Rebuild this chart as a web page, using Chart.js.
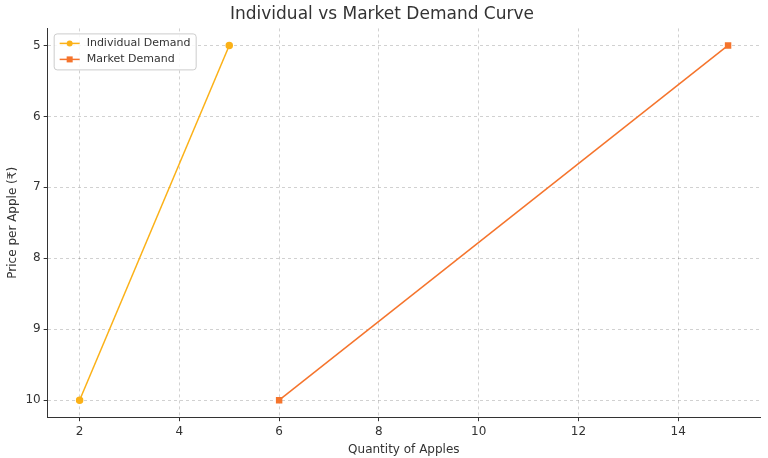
<!DOCTYPE html>
<html>
<head>
<meta charset="utf-8">
<script src="https://cdn.jsdelivr.net/npm/chart.js@4"></script>
<style>
  html, body { margin: 0; padding: 0; background: #fff; }
  #wrap { width: 768px; height: 458px; }
</style>
</head>
<body>
<div id="wrap"><canvas id="chart"></canvas></div>
<script>
// data
const individualQty = [2, 5];
const individualPrice = [10, 5];
const marketQty = [6, 15];
const marketPrice = [10, 5];

const toPoints = (xs, ys) => xs.map((x, i) => ({ x: x, y: ys[i] }));

const gridColor = "rgba(0,0,0,0.18)";

// legend drawn inside the plot, upper left, like the reference
const innerLegend = {
    id: "innerLegend",
    afterDraw: function(chart) {
        const ctx = chart.ctx;
        const area = chart.chartArea;
        const x = area.left + 6, y = area.top + 5;
        const w = 142, h = 36;
        ctx.save();
        ctx.fillStyle = "rgba(255,255,255,0.85)";
        ctx.strokeStyle = "#ccc";
        ctx.lineWidth = 1;
        ctx.beginPath();
        ctx.roundRect(x + 0.5, y + 0.5, w, h, 3);
        ctx.fill();
        ctx.stroke();
        ctx.font = "11px 'DejaVu Sans'";
        ctx.textBaseline = "middle";
        chart.data.datasets.forEach((ds, i) => {
            const ly = y + 10 + i * 16;
            ctx.strokeStyle = ds.borderColor;
            ctx.lineWidth = 1.5;
            ctx.beginPath();
            ctx.moveTo(x + 6, ly);
            ctx.lineTo(x + 26, ly);
            ctx.stroke();
            ctx.fillStyle = ds.borderColor;
            if (ds.pointStyle === "rect") {
                ctx.fillRect(x + 13, ly - 3, 6, 6);
            } else {
                ctx.beginPath();
                ctx.arc(x + 16, ly, 3, 0, Math.PI * 2);
                ctx.fill();
            }
            ctx.fillStyle = "#333";
            ctx.fillText(ds.label, x + 33, ly);
        });
        ctx.restore();
    }
};

new Chart(document.getElementById("chart"), {
    type: "line",
    data: {
        datasets: [
            {
                label: "Individual Demand",
                data: toPoints(individualQty, individualPrice),
                borderColor: "#fbb117",
                backgroundColor: "#fbb117",
                pointStyle: "circle",
                pointRadius: 3,
                borderWidth: 1.5
            },
            {
                label: "Market Demand",
                data: toPoints(marketQty, marketPrice),
                borderColor: "#f5742c",
                backgroundColor: "#f5742c",
                pointStyle: "rect",
                pointRadius: 3.5,
                borderWidth: 1.5
            }
        ]
    },
    plugins: [innerLegend],
    options: {
        responsive: true,
        maintainAspectRatio: false,
        animation: false,
        layout: { padding: { left: 4, right: 8, top: 2, bottom: 0 } },
        plugins: {
            title: {
                display: true,
                text: "Individual vs Market Demand Curve",
                color: "#333",
                font: { family: "DejaVu Sans", size: 17, weight: "normal" },
                padding: { top: 2, bottom: 4 }
            },
            legend: { display: false },
            tooltip: { enabled: false }
        },
        scales: {
            x: {
                type: "linear",
                min: 1.36,
                max: 15.64,
                afterBuildTicks: axis => { axis.ticks = [2, 4, 6, 8, 10, 12, 14].map(v => ({ value: v })); },
                grid: { color: gridColor, tickColor: "#333", tickLength: 4 },
                border: { color: "#333", dash: [3, 3] },
                ticks: { color: "#333", font: { family: "DejaVu Sans", size: 12 } },
                title: { display: true, text: "Quantity of Apples", color: "#333", font: { family: "DejaVu Sans", size: 12 }, padding: 1 }
            },
            y: {
                type: "linear",
                reverse: true,
                min: 4.76,
                max: 10.24,
                afterBuildTicks: axis => { axis.ticks = [5, 6, 7, 8, 9, 10].map(v => ({ value: v })); },
                grid: { color: gridColor, tickColor: "#333", tickLength: 4 },
                border: { color: "#333", dash: [3, 3] },
                ticks: { color: "#333", font: { family: "DejaVu Sans", size: 12 } },
                title: { display: true, text: "Price per Apple (₹)", color: "#333", font: { family: "DejaVu Sans", size: 12 }, padding: 2 }
            }
        }
    }
});
</script>
</body>
</html>
